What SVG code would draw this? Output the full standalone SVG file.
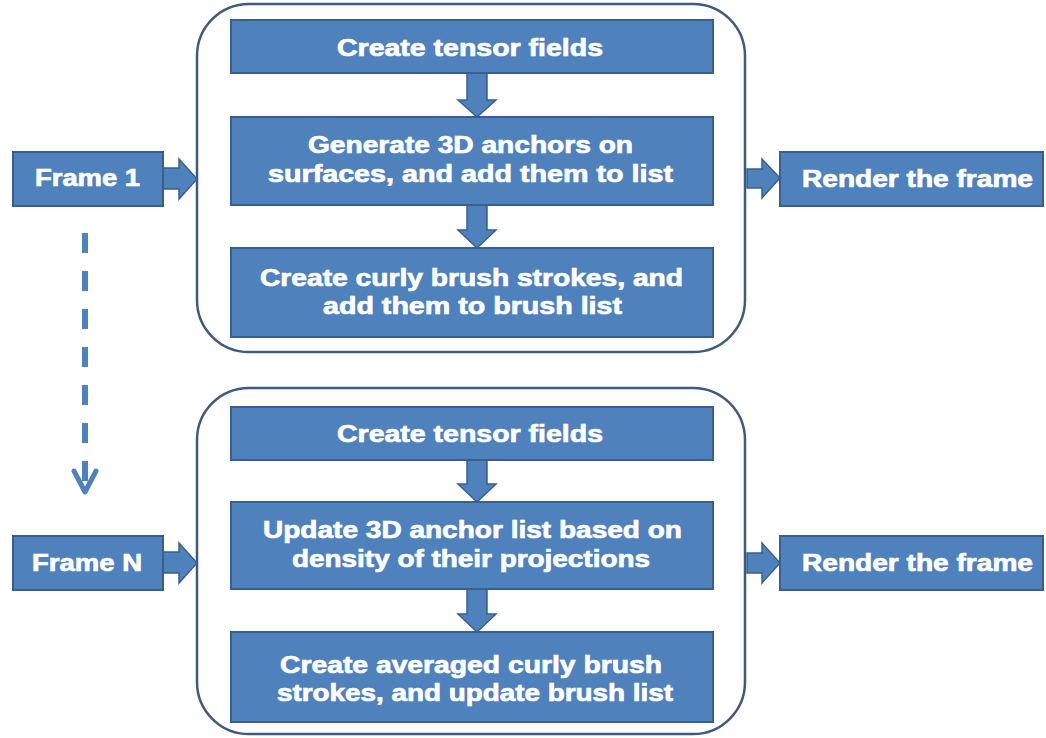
<svg xmlns="http://www.w3.org/2000/svg" width="1046" height="738" viewBox="0 0 1046 738">
  <style>
    .box { fill: #4F81BD; stroke: #3A5F8E; stroke-width: 2; }
    .panel { fill: none; stroke: #3E5A7E; stroke-width: 2.5; }
    .blk { fill: #4F81BD; stroke: #3A5F8E; stroke-width: 1.5; stroke-linejoin: miter; }
    .lbl { font-family: "Liberation Sans", Arial, sans-serif; font-weight: bold; font-size: 23px; fill: #FFFFFF; stroke: #FFFFFF; stroke-width: 0.7; }
    .dash { fill: none; stroke: #4F81BD; stroke-width: 6; stroke-dasharray: 20 18; }
    .chev { fill: none; stroke: #4F81BD; stroke-width: 5; stroke-linecap: round; stroke-linejoin: round; }
  </style>
  <rect width="1046" height="738" fill="#FFFFFF"/>

  <!-- process panels -->
  <g id="panel-1"><rect class="panel" x="197" y="4" width="548" height="348" rx="52" ry="52"/></g>
  <g id="panel-n"><rect class="panel" x="197" y="388" width="548" height="346" rx="52" ry="52"/></g>

  <!-- connectors -->
  <g id="connectors">
    <!-- Frame 1 into panel -->
    <polygon class="blk" points="163,168 179,168 179,159 197,179 179,199 179,189 163,189"/>
    <!-- panel to render (top) -->
    <polygon class="blk" points="747,169 762,169 762,159 780,178 762,198 762,188 747,188"/>
    <!-- Frame N into panel -->
    <polygon class="blk" points="163,552 179,552 179,543 197,563 179,583 179,573 163,573"/>
    <!-- panel to render (bottom) -->
    <polygon class="blk" points="747,553 762,553 762,543 780,563 762,583 762,573 747,573"/>
    <!-- down arrows, top panel -->
    <polygon class="blk" points="467,73 487,73 487,100 496,100 477,117 458,100 467,100"/>
    <polygon class="blk" points="467,205 487,205 487,230 496,230 477,248 458,230 467,230"/>
    <!-- down arrows, bottom panel -->
    <polygon class="blk" points="467,460 487,460 487,484 496,484 477,502 458,484 467,484"/>
    <polygon class="blk" points="467,589 487,589 487,614 496,614 477,632 458,614 467,614"/>
    <!-- dashed frame progression -->
    <line class="dash" x1="85" y1="233" x2="85" y2="490"/>
    <polyline class="chev" points="74,471 85,492 96,471"/>
  </g>

  <!-- left frame nodes -->
  <g id="frame-1">
    <rect class="box" x="13" y="152" width="150" height="54"/>
    <text class="lbl" x="35" y="186" textLength="105" lengthAdjust="spacingAndGlyphs">Frame 1</text>
  </g>
  <g id="frame-n">
    <rect class="box" x="13" y="536" width="150" height="54"/>
    <text class="lbl" x="32" y="571" textLength="110" lengthAdjust="spacingAndGlyphs">Frame N</text>
  </g>

  <!-- render nodes -->
  <g id="render-1">
    <rect class="box" x="780" y="152" width="263" height="54"/>
    <text class="lbl" x="802" y="187" textLength="231" lengthAdjust="spacingAndGlyphs">Render the frame</text>
  </g>
  <g id="render-n">
    <rect class="box" x="780" y="536" width="263" height="54"/>
    <text class="lbl" x="802" y="571" textLength="231" lengthAdjust="spacingAndGlyphs">Render the frame</text>
  </g>

  <!-- steps, panel 1 -->
  <g id="step-1a">
    <rect class="box" x="231" y="20" width="482" height="53"/>
    <text class="lbl" x="337" y="56" textLength="266" lengthAdjust="spacingAndGlyphs">Create tensor fields</text>
  </g>
  <g id="step-1b">
    <rect class="box" x="231" y="117" width="482" height="88"/>
    <text class="lbl" x="308" y="153" textLength="325" lengthAdjust="spacingAndGlyphs">Generate 3D anchors on</text>
    <text class="lbl" x="268" y="182" textLength="405" lengthAdjust="spacingAndGlyphs">surfaces, and add them to list</text>
  </g>
  <g id="step-1c">
    <rect class="box" x="231" y="248" width="482" height="89"/>
    <text class="lbl" x="260" y="286" textLength="423" lengthAdjust="spacingAndGlyphs">Create curly brush strokes, and</text>
    <text class="lbl" x="323" y="314" textLength="299" lengthAdjust="spacingAndGlyphs">add them to brush list</text>
  </g>

  <!-- steps, panel N -->
  <g id="step-na">
    <rect class="box" x="231" y="407" width="482" height="53"/>
    <text class="lbl" x="337" y="442" textLength="266" lengthAdjust="spacingAndGlyphs">Create tensor fields</text>
  </g>
  <g id="step-nb">
    <rect class="box" x="231" y="502" width="482" height="87"/>
    <text class="lbl" x="263" y="538" textLength="419" lengthAdjust="spacingAndGlyphs">Update 3D anchor list based on</text>
    <text class="lbl" x="292" y="567" textLength="358" lengthAdjust="spacingAndGlyphs">density of their projections</text>
  </g>
  <g id="step-nc">
    <rect class="box" x="231" y="632" width="482" height="90"/>
    <text class="lbl" x="280" y="673" textLength="382" lengthAdjust="spacingAndGlyphs">Create averaged curly brush</text>
    <text class="lbl" x="277" y="701" textLength="396" lengthAdjust="spacingAndGlyphs">strokes, and update brush list</text>
  </g>
</svg>
